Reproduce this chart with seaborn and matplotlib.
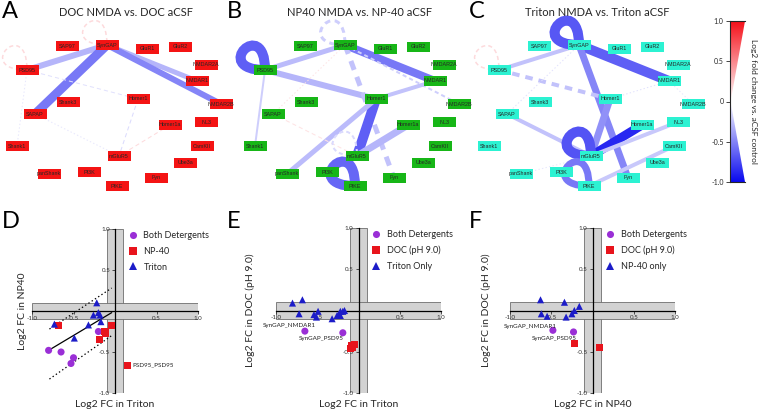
import matplotlib

matplotlib.use("Agg")
import matplotlib.pyplot as plt
import numpy as np
import pandas as pd
import seaborn as sns
from matplotlib.colors import LinearSegmentedColormap, Normalize
from matplotlib.patches import PathPatch, Polygon, Rectangle
from matplotlib.path import Path

W, H = 758, 412

# ---------------------------------------------------------------------------
# Network panels (A-C): node layout shared by the three detergents
# ---------------------------------------------------------------------------
nodes = ["SAP97", "SynGAP", "GluR1", "GluR2", "PSD95", "NMDAR2A", "NMDAR1",
         "Shank3", "Homer1", "NMDAR2B", "SAPAP", "Homer1a", "NL3", "Shank1",
         "CamKII", "mGluR5", "Ube3a", "panShank", "PI3K", "Fyn", "PIKE"]
node_x = [67, 107, 147, 180, 27, 206, 197, 68, 138, 221, 35, 170, 206, 17,
          202, 119, 185, 49, 89, 156, 117]
node_y = [46, 45, 49, 47, 70, 65, 81, 102, 99, 104, 114, 125, 122, 146,
          146, 156, 163, 174, 172, 178, 186]

# edges: (protein a, protein b, log2 FC, weight, line type)
edges_doc = [
    ("SynGAP", "PSD95", -0.30, 6, "solid"),
    ("SynGAP", "SAPAP", -0.55, 9, "solid"),
    ("SynGAP", "NMDAR1", -0.30, 5, "solid"),
    ("SynGAP", "NMDAR2B", -0.50, 6, "solid"),
    ("PSD95", "Homer1", -0.12, 1, "dashed"),
    ("Homer1", "mGluR5", -0.15, 1, "dashed"),
    ("Homer1a", "mGluR5", 0.15, 1, "dashed"),
    ("SAPAP", "mGluR5", -0.10, 1, "dotted"),
    ("PSD95", "Shank1", -0.10, 1, "dotted"),
]
loops_doc = [("SynGAP", 0.15, 1.5, "dashed"), ("PSD95", 0.15, 1.5, "dashed")]

edges_np40 = [
    ("PSD95", "SynGAP", -0.28, 5, "solid"),
    ("PSD95", "Homer1", -0.30, 6, "solid"),
    ("SynGAP", "NMDAR1", -0.55, 8, "solid"),
    ("SynGAP", "Fyn", -0.25, 5, "dashed"),
    ("SynGAP", "NMDAR2B", -0.20, 2, "dashed"),
    ("Homer1", "NMDAR1", -0.25, 4, "solid"),
    ("Homer1", "mGluR5", -0.65, 10, "solid"),
    ("Homer1", "panShank", -0.28, 5, "solid"),
    ("Homer1a", "mGluR5", -0.30, 7, "solid"),
    ("PSD95", "Shank1", -0.20, 2, "solid"),
    ("SynGAP", "SAPAP", 0.12, 1, "dotted"),
    ("SAPAP", "mGluR5", 0.12, 1, "dashed"),
]
loops_np40 = [("PSD95", -0.65, 10, "solid"), ("SynGAP", -0.20, 3, "dashed"),
              ("PIKE", -0.62, 10, "solid"), ("mGluR5", -0.15, 2, "dashed")]

edges_triton = [
    ("SynGAP", "NMDAR1", -0.65, 10, "solid"),
    ("SynGAP", "PSD95", -0.25, 4, "solid"),
    ("SynGAP", "Fyn", -0.50, 7, "solid"),
    ("PSD95", "Homer1", -0.25, 4, "dashed"),
    ("SynGAP", "SAPAP", -0.12, 1, "dotted"),
    ("Homer1", "mGluR5", -0.45, 7, "solid"),
    ("Homer1a", "mGluR5", -0.88, 9, "solid"),
    ("NL3", "mGluR5", -0.22, 4, "solid"),
    ("SAPAP", "mGluR5", -0.25, 4, "solid"),
    ("CamKII", "PIKE", -0.22, 4, "solid"),
    ("NMDAR1", "Homer1", -0.12, 1, "dotted"),
    ("NMDAR1", "NMDAR2B", -0.10, 1, "dotted"),
    ("panShank", "mGluR5", -0.10, 1, "dotted"),
]
loops_triton = [("SynGAP", -0.68, 10, "solid"), ("mGluR5", -0.70, 10, "solid"),
                ("PIKE", -0.55, 7, "solid"), ("PSD95", 0.15, 1.5, "dashed")]

# ---------------------------------------------------------------------------
# Scatter panels (D-F)
# ---------------------------------------------------------------------------
d_both_x = [-0.80, -0.65, -0.50, -0.53, -0.20]
d_both_y = [-0.48, -0.50, -0.57, -0.64, -0.25]
d_np40_x = [-0.68, -0.12, -0.11, -0.19, -0.04, 0.15]
d_np40_y = [-0.18, -0.25, -0.27, -0.35, -0.18, -0.66]
d_tri_x = [-0.73, -0.49, -0.32, -0.26, -0.22, -0.20, -0.18, -0.17]
d_tri_y = [-0.16, -0.33, -0.17, -0.05, 0.10, -0.02, -0.05, -0.13]
d_fit_x = [-0.80, -0.04]
d_fit_y = [-0.48, -0.02]
d_band_x = [-0.79, -0.04]
d_upper_y = [-0.22, 0.28]
d_lower_y = [-0.83, -0.30]

e_both_x = [-0.65, -0.19]
e_both_y = [-0.25, -0.27]
e_doc_x = [-0.05, -0.08, -0.10, -0.07]
e_doc_y = [-0.41, -0.43, -0.46, -0.45]
e_tri_x = [-0.80, -0.68, -0.72, -0.54, -0.51, -0.49, -0.32, -0.26, -0.22,
           -0.22, -0.19, -0.17, -0.24]
e_tri_y = [0.09, 0.13, -0.04, -0.05, -0.08, -0.01, -0.10, -0.06, -0.01,
           -0.06, -0.01, 0.00, -0.05]

f_both_x = [-0.48, -0.23]
f_both_y = [-0.24, -0.26]
f_doc_x = [-0.22, 0.09]
f_doc_y = [-0.40, -0.45]
f_np_x = [-0.63, -0.34, -0.16, -0.62, -0.55, -0.32, -0.25, -0.22]
f_np_y = [0.13, 0.10, 0.05, -0.04, -0.07, -0.08, -0.04, 0.00]

ticks = [-1.0, -0.5, 0.5, 1.0]
tick_labels = ["-1.0", "-0.5", "0.5", "1.0"]

sns.set_theme(style="white")
plt.rcParams["font.family"] = ["Lato", "DejaVu Sans"]
plt.rcParams["lines.scale_dashes"] = False

PURPLE, RED, BLUE = "#9a2fd6", "#e8141c", "#1c1cc8"
fc_cmap = LinearSegmentedColormap.from_list("fc", ["#0a0aef", "#ffffff", "#f5101a"])
fc_norm = Normalize(-1, 1)


def rect(x0, y0, x1, y1):
    return [x0 / W, 1 - y1 / H, (x1 - x0) / W, (y1 - y0) / H]


def dash(style, lw):
    if style == "dashed":
        return (0, (max(3.0, 1.9 * lw), max(2.2, 1.5 * lw)))
    if style == "dotted":
        return (0, (1.0, 1.6))
    return "solid"


def draw_network(ax, x0, edges, loops, color):
    pos = {n: (x0 + x, y) for n, x, y in zip(nodes, node_x, node_y)}
    for a, b, fc, w, ls in edges:
        (xa, ya), (xb, yb) = pos[a], pos[b]
        lw = w * 0.72
        ax.plot([xa, xb], [ya, yb], color=fc_cmap(fc_norm(fc)), lw=lw,
                ls=dash(ls, lw), solid_capstyle="butt", dash_capstyle="butt",
                zorder=1)
    for n, fc, w, ls in loops:
        x, y = pos[n]
        lw = w * 0.72
        th, phi, L = np.deg2rad(-135), np.deg2rad(45), 55
        c1 = (x + L * np.cos(th - phi), y + L * np.sin(th - phi))
        c2 = (x + L * np.cos(th + phi), y + L * np.sin(th + phi))
        path = Path([(x, y), c1, c2, (x, y)],
                    [Path.MOVETO, Path.CURVE4, Path.CURVE4, Path.CURVE4])
        ax.add_patch(PathPatch(path, fill=False, ec=fc_cmap(fc_norm(fc)), lw=lw,
                               ls=dash(ls, lw), zorder=1))
    for n, (x, y) in pos.items():
        ax.add_patch(Rectangle((x - 11.5, y - 5), 23, 10, fc=color, ec="none",
                               zorder=3))
        ax.text(x, y, n, ha="center", va="center", fontsize=3.9, zorder=4,
                family=["Liberation Sans", "DejaVu Sans"])


fig = plt.figure(figsize=(W / 100, H / 100), dpi=100)

net = fig.add_axes(rect(0, 15, 720, 205))
net.set_xlim(0, 720)
net.set_ylim(205, 15)
net.axis("off")
draw_network(net, 0, edges_doc, loops_doc, "#f41414")
draw_network(net, 238, edges_np40, loops_np40, "#17b617")
draw_network(net, 472, edges_triton, loops_triton, "#2cf2d2")

for x, t in [(126, "DOC NMDA vs. DOC aCSF"), (360, "NP40 NMDA vs. NP-40 aCSF"),
             (597, "Triton NMDA vs. Triton aCSF")]:
    fig.text(x / W, 1 - 12 / H, t, ha="center", va="center", fontsize=8)
for x, y, t in [(2, 12, "A"), (227, 12, "B"), (469, 12, "C"),
                (2, 222, "D"), (227, 222, "E"), (469, 222, "F")]:
    fig.text(x / W, 1 - y / H, t, ha="left", va="center", fontsize=17,
             color="black")

# colour scale (wedge)
cax = fig.add_axes(rect(730, 21, 745, 182))
grad = np.linspace(-1, 1, 256).reshape(-1, 1)
im = cax.imshow(grad, extent=[0, 1, -1, 1], origin="lower", aspect="auto",
                cmap=fc_cmap, norm=fc_norm)
wedge = Polygon([(0, 1), (1, 1), (0.04, 0), (1, -1), (0, -1)],
                transform=cax.transData)
im.set_clip_path(wedge)
cax.set_xlim(0, 1)
cax.set_ylim(-1, 1)
cax.set_xticks([])
cax.set_yticks([1, 0.5, 0, -0.5, -1])
cax.set_yticklabels(["1.0", "0.5", "0", "-0.5", "-1.0"])
cax.tick_params(axis="y", left=True, length=3, width=0.6, labelsize=5, pad=1.5)
cax.spines["right"].set_visible(False)
for s in ["left", "top", "bottom"]:
    cax.spines[s].set_linewidth(0.8)
fig.text(753 / W, 1 - 101 / H, "Log2 fold change vs. aCSF control", rotation=270,
         ha="center", va="center", fontsize=6)


def scatter_panel(box, groups, labels, xlabel, ylabel, ylab_x, notes):
    ax = fig.add_axes(rect(*box))
    rows = []
    for (xs, ys), lab in zip(groups, labels):
        rows += [{"x": a, "y": b, "group": lab} for a, b in zip(xs, ys)]
    df = pd.DataFrame(rows)
    ax.axvspan(-0.1, 0.1, fc="#d2d2d2", ec="#6e6e6e", lw=0.6, zorder=0)
    ax.axhspan(-0.1, 0.1, fc="#d2d2d2", ec="#6e6e6e", lw=0.6, zorder=0)
    sns.scatterplot(data=df, x="x", y="y", hue="group", style="group",
                    hue_order=labels, style_order=labels,
                    palette=dict(zip(labels, [PURPLE, RED, BLUE])),
                    markers=dict(zip(labels, ["o", "s", "^"])),
                    s=26, linewidth=0, ax=ax, zorder=3)
    ax.set_xlim(-1, 1)
    ax.set_ylim(-1, 1)
    for s in ["top", "right"]:
        ax.spines[s].set_visible(False)
    for s in ["left", "bottom"]:
        ax.spines[s].set_position("zero")
        ax.spines[s].set_color("black")
        ax.spines[s].set_linewidth(0.9)
        ax.spines[s].set_zorder(2)
    ax.set_xticks(ticks)
    ax.set_xticklabels(tick_labels)
    ax.set_yticks(ticks)
    ax.set_yticklabels(tick_labels)
    ax.tick_params(labelsize=4.5, length=2, width=0.6, pad=1.5, colors="#333333",
                   bottom=True, left=True)
    ax.set_xlabel(xlabel, fontsize=7.5)
    ax.set_ylabel(ylabel, fontsize=7.5)
    ax.xaxis.set_label_coords(0.5, -0.04)
    ax.yaxis.set_label_coords(ylab_x, 0.5)
    h, l = ax.get_legend_handles_labels()
    ax.legend(h, l, loc="upper left", bbox_to_anchor=(0.53, 1.01), frameon=False,
              fontsize=6.5, handletextpad=0.2, labelspacing=0.75,
              markerscale=1.0, borderaxespad=0)
    for x, y, t, ha in notes:
        ax.text(x, y, t, fontsize=4.5, ha=ha, va="center", color="#222222")
    return ax


ax_d = scatter_panel((32, 229, 198, 393),
                     [(d_both_x, d_both_y), (d_np40_x, d_np40_y), (d_tri_x, d_tri_y)],
                     ["Both Detergents", "NP-40", "Triton"],
                     "Log2 FC in Triton", "Log2 FC in NP40", -0.03,
                     [(0.21, -0.66, "PSD95_PSD95", "left")])
ax_d.plot(d_fit_x, d_fit_y, color="black", lw=0.9, zorder=2)
ax_d.plot(d_band_x, d_upper_y, color="black", lw=0.9, ls=(0, (1, 1.8)), zorder=2)
ax_d.plot(d_band_x, d_lower_y, color="black", lw=0.9, ls=(0, (1, 1.8)), zorder=2)

scatter_panel((276, 228, 441, 393),
              [(e_both_x, e_both_y), (e_doc_x, e_doc_y), (e_tri_x, e_tri_y)],
              ["Both Detergents", "DOC (pH 9.0)", "Triton Only"],
              "Log2 FC in Triton", "Log2 FC in DOC (pH 9.0)", -0.13,
              [(-0.84, -0.18, "SynGAP_NMDAR1", "center"),
               (-0.45, -0.34, "SynGAP_PSD95", "center")])

scatter_panel((510, 228, 675, 393),
              [(f_both_x, f_both_y), (f_doc_x, f_doc_y), (f_np_x, f_np_y)],
              ["Both Detergents", "DOC (pH 9.0)", "NP-40 only"],
              "Log2 FC in NP40", "Log2 FC in DOC (pH 9.0)", -0.115,
              [(-0.76, -0.19, "SynGAP_NMDAR1", "center"),
               (-0.46, -0.34, "SynGAP_PSD95", "center")])

fig.savefig("out.png", dpi=100)
